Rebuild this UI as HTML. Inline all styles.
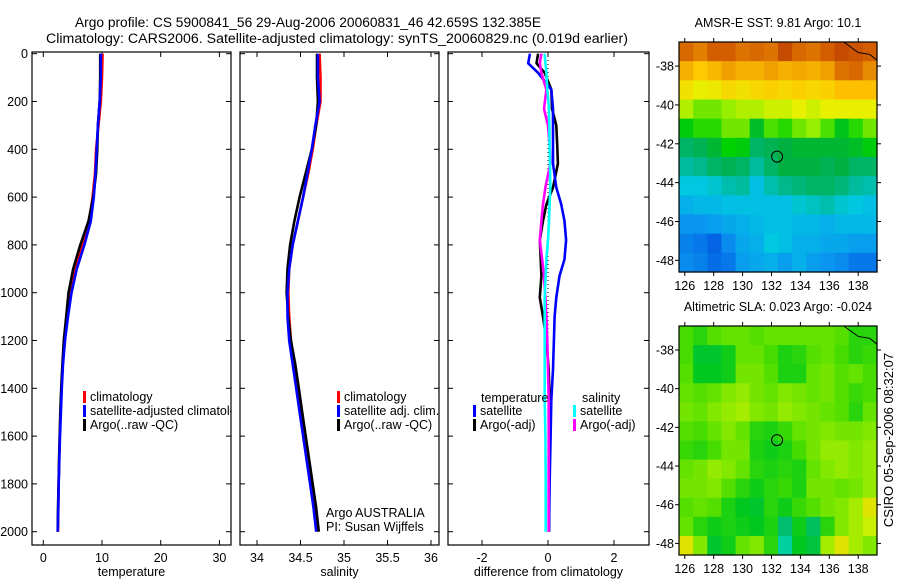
<!DOCTYPE html>
<html><head><meta charset="utf-8"><style>
html,body{margin:0;padding:0;background:#fff;}
svg{display:block;font-family:"Liberation Sans",sans-serif;}
</style></head><body>
<svg id="fig" width="900" height="580" xmlns="http://www.w3.org/2000/svg">
<defs><clipPath id="p1clip"><rect x="32" y="52" width="199" height="493"/></clipPath></defs>
<text x="75" y="27" font-size="14.2" textLength="466" lengthAdjust="spacingAndGlyphs">Argo profile: CS 5900841_56 29-Aug-2006 20060831_46 42.659S 132.385E</text>
<text x="46" y="43" font-size="14.2" textLength="582" lengthAdjust="spacingAndGlyphs">Climatology: CARS2006. Satellite-adjusted climatology: synTS_20060829.nc (0.019d earlier)</text>
<g id="plots"></g>
<text x="0" y="0" font-size="13" text-anchor="middle" transform="translate(893,440) rotate(-90)">CSIRO 05-Sep-2006 08:32:07</text>
</svg>
<script>
// ---------- profile data ----------
const depths = [0, 100, 200, 300, 400, 500, 600, 700, 800, 900, 1000, 1100, 1200, 1300, 1400, 1500, 1600, 1700, 1800, 1900, 2000];
const tempClim = [10.1, 10.0, 9.8, 9.4, 9.0, 8.8, 8.4, 7.8, 6.6, 5.4, 4.6, 4.0, 3.6, 3.3, 3.1, 2.95, 2.8, 2.7, 2.6, 2.55, 2.5];
const tempSat  = [9.8, 9.8, 9.6, 9.3, 9.1, 8.9, 8.6, 8.1, 7.0, 5.7, 4.8, 4.2, 3.7, 3.35, 3.15, 3.0, 2.85, 2.72, 2.62, 2.55, 2.45];
const tempArgo = [9.7, 9.7, 9.6, 9.3, 9.2, 9.0, 8.5, 7.7, 6.3, 5.1, 4.3, 3.9, 3.5, 3.25, 3.05, 2.9, 2.8, 2.7, 2.6, 2.5, 2.45];
const salClim = [34.72, 34.73, 34.73, 34.68, 34.64, 34.59, 34.53, 34.47, 34.41, 34.37, 34.36, 34.37, 34.39, 34.43, 34.47, 34.51, 34.55, 34.59, 34.62, 34.66, 34.70];
const salSat  = [34.70, 34.70, 34.72, 34.67, 34.63, 34.58, 34.53, 34.47, 34.41, 34.37, 34.35, 34.35, 34.37, 34.41, 34.45, 34.49, 34.53, 34.57, 34.61, 34.65, 34.68];
const salArgo = [34.69, 34.69, 34.70, 34.68, 34.63, 34.56, 34.49, 34.43, 34.38, 34.35, 34.34, 34.36, 34.39, 34.44, 34.48, 34.52, 34.56, 34.60, 34.64, 34.68, 34.71];
// differences from climatology
const diffDepths = [0, 40, 80, 150, 230, 300, 380, 460, 560, 630, 700, 780, 860, 930, 1020, 1100, 1200, 1320, 1450, 1600, 1800, 2000];
const dTempSat  = [-0.55, -0.6, -0.3, 0.1, 0.15, 0.15, 0.15, 0.15, 0.25, 0.4, 0.5, 0.55, 0.5, 0.35, 0.25, 0.2, 0.18, 0.15, 0.1, 0.08, 0.05, 0.03];
const dTempArgo = [-0.3, -0.35, -0.1, 0.1, 0.12, 0.25, 0.28, 0.3, 0.15, -0.05, -0.15, -0.25, -0.22, -0.2, -0.25, -0.15, -0.05, 0.02, 0.05, 0.05, 0.04, 0.03];
const dSalSat   = [-0.1, -0.08, -0.05, -0.02, 0.03, 0.04, 0.05, 0.06, 0.07, 0.05, 0.03, 0.0, -0.05, -0.07, -0.1, -0.1, -0.1, -0.1, -0.1, -0.08, -0.07, -0.07];
const dSalArgo  = [-0.2, -0.25, -0.2, -0.05, -0.12, 0.0, 0.05, 0.07, -0.08, -0.15, -0.2, -0.25, -0.18, -0.12, -0.08, -0.05, -0.02, 0.0, 0.02, 0.02, 0.02, 0.02];
// ---------- map data ----------
const mapLons = [125.6, 139.3];
const mapLats = [-36.76, -48.6];
const sstGrid = [
[12.5,12.3,12.6,12.6,12.4,12.5,12.4,12.8,12.5,12.4,12.6,12.8,12.7,12.6],
[11.8,11.5,11.7,12.0,11.8,11.8,12.0,11.8,11.9,11.8,12.0,12.4,12.5,12.2],
[11.2,11.0,11.1,11.3,11.2,11.3,11.4,11.3,11.4,11.3,11.4,11.6,11.6,11.6],
[10.8,10.6,10.6,10.7,10.8,10.8,10.9,10.9,11.0,10.9,11.0,11.0,11.0,11.0],
[10.2,10.4,10.4,10.6,10.6,10.0,10.5,10.4,10.6,10.7,10.5,10.1,10.4,10.6],
[9.6,9.7,9.9,10.3,10.2,9.6,9.7,9.8,9.9,9.9,9.9,9.9,10.0,10.2],
[9.3,9.4,9.6,9.7,9.6,9.3,9.6,9.8,9.8,9.8,9.7,9.8,9.6,9.6],
[8.9,8.9,9.0,9.2,9.3,8.8,9.2,9.4,9.5,9.6,9.6,9.5,9.3,9.2],
[8.6,8.7,8.7,8.8,8.8,8.8,8.8,8.8,9.0,9.1,9.2,9.0,8.9,8.8],
[8.3,8.3,8.4,8.5,8.6,8.7,8.8,8.8,8.7,8.7,8.6,8.7,8.7,8.7],
[8.1,8.0,7.8,8.2,8.5,8.6,8.9,8.8,8.6,8.6,8.5,8.5,8.4,8.4],
[8.2,8.1,7.9,8.0,8.4,8.5,8.6,8.4,8.6,8.4,8.3,8.2,8.0,8.0]];
const slaGrid = [
[0.02,0.0,0.03,0.04,0.04,0.03,0.04,0.04,0.04,0.04,0.04,0.03,0.0,0.0],
[0.02,-0.04,-0.04,-0.02,0.04,0.04,0.02,-0.01,0.0,0.03,0.04,0.02,0.0,0.01],
[0.03,-0.03,-0.03,-0.02,0.05,0.05,0.03,-0.01,-0.01,0.04,0.05,0.03,0.04,0.02],
[0.04,0.03,0.04,0.06,0.07,0.05,0.04,0.06,0.05,0.04,0.05,0.03,0.01,0.02],
[0.05,0.04,0.06,0.07,0.08,0.06,0.05,0.07,0.06,0.05,0.04,0.03,0.0,0.04],
[0.03,0.02,0.04,0.06,0.04,0.0,-0.01,0.01,0.04,0.05,0.06,0.05,0.05,0.06],
[0.01,0.0,0.02,0.05,0.05,-0.01,-0.02,-0.01,0.02,0.05,0.07,0.07,0.06,0.07],
[0.04,0.05,0.07,0.06,0.04,0.0,-0.01,0.0,-0.01,0.04,0.06,0.07,0.06,0.07],
[0.05,0.05,0.06,0.03,0.0,-0.02,0.0,0.01,-0.01,0.05,0.05,0.04,0.05,0.07],
[0.03,0.04,0.03,-0.01,-0.03,-0.04,0.0,-0.02,0.01,0.03,0.05,0.06,0.08,0.12],
[0.04,0.0,-0.02,-0.01,-0.02,-0.03,-0.01,-0.08,-0.02,-0.07,0.0,0.06,0.08,0.10],
[0.12,0.06,-0.04,-0.02,0.04,0.06,0.0,-0.12,-0.03,-0.05,0.08,0.12,0.08,0.06]];
const argoLon = 132.385, argoLat = -42.659;
const depthTicks = [0,200,400,600,800,1000,1200,1400,1600,1800,2000];
const tempTicks = [0,10,20,30];
const salTicks = [34,34.5,35,35.5,36];
const diffTicks = [-2,0,2];
const lonTicks = [126,128,130,132,134,136,138];
const latTicks = [-38,-40,-42,-44,-46,-48];

const NS = "http://www.w3.org/2000/svg";
const root = document.getElementById('plots');
function mk(tag, attrs, parent, text){
  const e = document.createElementNS(NS, tag);
  for (const k in attrs) e.setAttribute(k, attrs[k]);
  if (text !== undefined) e.textContent = text;
  (parent || root).appendChild(e);
  return e;
}
const Y0 = 53.7, YS = 0.239, PTOP = 52, PBOT = 545;
function yD(d){ return Y0 + d*YS; }
function lin(v0, p0, v1, p1){ return v => p0 + (v - v0)*(p1 - p0)/(v1 - v0); }

const panels = [
  {name:'temperature', x0:32, x1:231, f:lin(0,43.3,30,219.4), ticks:tempTicks, label:'temperature'},
  {name:'salinity', x0:240, x1:439, f:lin(34,257,36,431), ticks:salTicks, label:'salinity'},
  {name:'difference', x0:448, x1:649, f:lin(-2,482,2,614), ticks:diffTicks, label:'difference from climatology'}
];
panels.forEach((p, i) => {
  const g = mk('g', {});
  
  
  const fr = mk('rect', {x:p.x0, y:PTOP, width:p.x1-p.x0, height:PBOT-PTOP, fill:'none', stroke:'#000', 'stroke-width':1.2}, g);
  
  
  depthTicks.forEach(d => {
    const y = yD(d);
    mk('line', {x1:p.x0, x2:p.x0+5, y1:y, y2:y, stroke:'#000'}, g);
    mk('line', {x1:p.x1, x2:p.x1-5, y1:y, y2:y, stroke:'#000'}, g);
    if (i === 0) {
      const t = mk('text', {x:28, y:y+4.5, 'font-size':12.5, 'text-anchor':'end'}, g, String(d));
      
      
    }
  });
  p.ticks.forEach(v => {
    const x = p.f(v);
    mk('line', {x1:x, x2:x, y1:PBOT, y2:PBOT-5, stroke:'#000'}, g);
    mk('line', {x1:x, x2:x, y1:PTOP, y2:PTOP+5, stroke:'#000'}, g);
    const t = mk('text', {x:x, y:562, 'font-size':12.5, 'text-anchor':'middle'}, g, String(v));
    
    
  });
  const xl = mk('text', {x:(p.x0+p.x1)/2, y:576, 'font-size':12.5, 'text-anchor':'middle'}, g, p.label);
  
  
});
function line(vals, ds, f, color, name){
  const pts = vals.map((v,k) => f(v).toFixed(1) + ',' + yD(ds[k]).toFixed(1)).join(' ');
  const l = mk('polyline', {points:pts, fill:'none', stroke:color, 'stroke-width':2.6, 'stroke-linejoin':'round'});
  
  
}
const zx = panels[2].f(0);
const zl = mk('line', {x1:zx, x2:zx, y1:PTOP, y2:yD(2000), stroke:'#000', 'stroke-dasharray':'1,3'});



line(tempClim, depths, panels[0].f, '#ff0000', 'temp-climatology-line');
line(tempArgo, depths, panels[0].f, '#000000', 'temp-argo-line');
line(tempSat, depths, panels[0].f, '#0000ff', 'temp-satellite-line');
line(salClim, depths, panels[1].f, '#ff0000', 'sal-climatology-line');
line(salArgo, depths, panels[1].f, '#000000', 'sal-argo-line');
line(salSat, depths, panels[1].f, '#0000ff', 'sal-satellite-line');
line(dTempArgo, diffDepths, panels[2].f, '#000000', 'diff-temp-argo-line');
line(dTempSat, diffDepths, panels[2].f, '#0000ff', 'diff-temp-satellite-line');
line(dSalArgo, diffDepths, panels[2].f, '#ff00ff', 'diff-sal-argo-line');
line(dSalSat, diffDepths, panels[2].f, '#00ffff', 'diff-sal-satellite-line');

function legend(x, y, color, text, name, clip){
  if (color) mk('rect', {x:x, y:y-10, width:3, height:12, fill:color});
  const t = mk('text', {x:x+(color?7:0), y:y, 'font-size':12.5}, root, text);
  if (clip) t.setAttribute('clip-path', 'url(#p1clip)');
  
  
}
legend(83, 401, '#ff0000', 'climatology', 'legend-climatology');
legend(83, 415, '#0000ff', 'satellite-adjusted climatology', 'legend-satellite-adjusted', true);
legend(83, 429, '#000000', 'Argo(..raw -QC)', 'legend-argo');
legend(337, 401, '#ff0000', 'climatology', 'legend-sal-climatology');
legend(337, 415, '#0000ff', 'satellite adj. clim.', 'legend-sal-satellite');
legend(337, 429, '#000000', 'Argo(..raw -QC)', 'legend-sal-argo');
legend(326, 517, null, 'Argo AUSTRALIA', 'argo-australia-note');
legend(326, 531, null, 'PI: Susan Wijffels', 'pi-note');
legend(481, 402, null, 'temperature', 'legend-temp-heading');
legend(473, 415, '#0000ff', 'satellite', 'legend-temp-satellite');
legend(473, 429, '#000000', 'Argo(-adj)', 'legend-temp-argo');
legend(582, 402, null, 'salinity', 'legend-sal-heading');
legend(573, 415, '#00ffff', 'satellite', 'legend-sal-satellite-diff');
legend(573, 429, '#ff00ff', 'Argo(-adj)', 'legend-sal-argo-diff');

// ---------- maps ----------
function cm(stops, v){
  if (v <= stops[0][0]) return 'rgb(' + stops[0][1].join(',') + ')';
  for (let i=1;i<stops.length;i++){
    if (v <= stops[i][0]){
      const a = stops[i-1], b = stops[i], t = (v-a[0])/(b[0]-a[0]);
      return 'rgb(' + [0,1,2].map(k => Math.round(a[1][k]+(b[1][k]-a[1][k])*t)).join(',') + ')';
    }
  }
  return 'rgb(' + stops[stops.length-1][1].join(',') + ')';
}
const sstStops = [[7.5,[0,70,220]],[8.3,[10,150,240]],[8.9,[0,200,225]],[9.4,[0,184,140]],[9.8,[0,176,64]],[10.3,[0,210,0]],[10.7,[150,238,0]],[11.0,[232,240,0]],[11.5,[255,200,0]],[12.0,[240,160,0]],[12.5,[216,104,0]],[13,[184,56,0]]];
const slaStops = [[-0.15,[0,220,200]],[-0.08,[0,190,110]],[-0.03,[0,200,30]],[0.02,[70,220,0]],[0.06,[130,232,0]],[0.1,[200,240,0]],[0.15,[255,208,0]]];
function drawMap(grid, stops, top, bot, title, name){
  const L = 679, R = 877;
  const fx = lin(mapLons[0], L, mapLons[1], R);
  const fy = lin(mapLats[0], top, mapLats[1], bot);
  const g = mk('g', {});
  
  
  const nr = grid.length, nc = grid[0].length;
  const dLon = (mapLons[1]-mapLons[0])/nc, dLat = (mapLats[1]-mapLats[0])/nr;
  grid.forEach((row, r) => row.forEach((v, c) => {
    const x0 = fx(mapLons[0]+c*dLon), x1 = fx(mapLons[0]+(c+1)*dLon);
    const y0 = fy(mapLats[0]+r*dLat), y1 = fy(mapLats[0]+(r+1)*dLat);
    const cell = mk('rect', {x:x0, y:y0, width:x1-x0+0.6, height:y1-y0+0.6, fill:cm(stops, v)}, g);
    
    
  }));
  mk('polyline', {points:[fx(137)+','+fy(-36.76), fx(138)+','+fy(-37.3), fx(138.8)+','+fy(-37.4), fx(139.3)+','+fy(-37.7)].join(' '), fill:'none', stroke:'#000', 'stroke-width':1}, g);
  mk('rect', {x:L, y:top, width:R-L, height:bot-top, fill:'none', stroke:'#000', 'stroke-width':1.2}, g);
  const m = mk('circle', {cx:fx(argoLon), cy:fy(argoLat), r:5.5, fill:'none', stroke:'#000', 'stroke-width':1}, g);
  
  
  lonTicks.forEach(v => {
    const x = fx(v);
    mk('line', {x1:x, x2:x, y1:top, y2:top-4, stroke:'#000'}, g);
    mk('line', {x1:x, x2:x, y1:bot, y2:bot+4, stroke:'#000'}, g);
    const t = mk('text', {x:x, y:bot+18, 'font-size':12.5, 'text-anchor':'middle'}, g, String(v));
    
    
  });
  latTicks.forEach(v => {
    const y = fy(v);
    mk('line', {x1:L, x2:L-4, y1:y, y2:y, stroke:'#000'}, g);
    mk('line', {x1:R, x2:R+4, y1:y, y2:y, stroke:'#000'}, g);
    const t = mk('text', {x:674, y:y+4.5, 'font-size':12.5, 'text-anchor':'end'}, g, String(v));
    
    
  });
  const tt = mk('text', {x:(L+R)/2, y:top-15, 'font-size':12.5, 'text-anchor':'middle'}, g, title);
  
  
}
drawMap(sstGrid, sstStops, 42, 272, 'AMSR-E SST: 9.81 Argo: 10.1', 'sst-map');
drawMap(slaGrid, slaStops, 326, 555, 'Altimetric SLA: 0.023 Argo: -0.024', 'sla-map');
</script>
</body></html>
